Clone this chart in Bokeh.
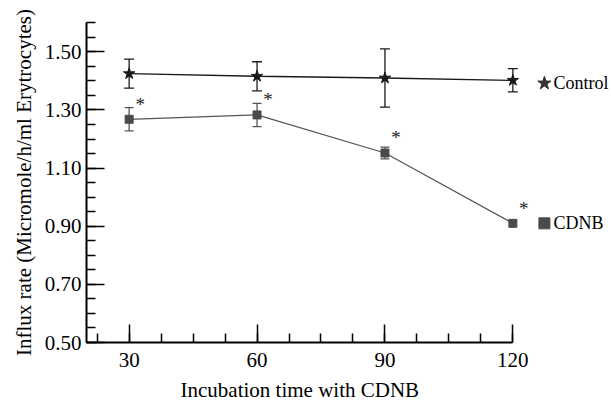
import numpy as np
from bokeh.plotting import figure
from bokeh.models import ColumnDataSource, Whisker, TeeHead, FixedTicker, Range1d, Title
from bokeh.core.properties import value
from bokeh.embed import file_html
from bokeh.resources import INLINE

# ---- data ----
times = [30, 60, 90, 120]
control = [1.425, 1.416, 1.410, 1.402]
control_err = [0.05, 0.05, 0.10, 0.04]
cdnb = [1.268, 1.283, 1.152, 0.910]
cdnb_err = [0.04, 0.04, 0.02, 0.0]
x_ticks = [30, 60, 90, 120]
y_ticks = [0.50, 0.70, 0.90, 1.10, 1.30, 1.50]
y_tick_labels = ["0.50", "0.70", "0.90", "1.10", "1.30", "1.50"]
series_names = ["Control", "CDNB"]
x_title = "Incubation time with CDNB"
y_title = "Influx rate (Micromole/h/ml Erytrocytes)"

FONT = "Liberation Serif"
X_MIN, X_MAX = 20, 120
Y_MIN = 0.5

src = ColumnDataSource(dict(
    x=times,
    c=control, c_up=[v + e for v, e in zip(control, control_err)], c_lo=[v - e for v, e in zip(control, control_err)],
    d=cdnb,
))

p = figure(width=610, height=410, output_backend="svg", toolbar_location=None,
           x_range=Range1d(X_MIN, 142.9), y_range=Range1d(Y_MIN, 1.601),
           min_border_left=86, min_border_right=0, min_border_top=22, min_border_bottom=68)
p.outline_line_color = None
p.grid.visible = False
p.background_fill_color = "white"
p.border_fill_color = "white"

# axes
for ax in (p.xaxis[0], p.yaxis[0]):
    ax.axis_line_width = 2
    ax.axis_line_color = "black"
    ax.major_tick_in = 18
    ax.major_tick_out = 0
    ax.minor_tick_in = 9
    ax.minor_tick_out = 0
    ax.major_tick_line_width = 1.5
    ax.minor_tick_line_width = 1.5
    ax.major_tick_line_color = "black"
    ax.minor_tick_line_color = "black"
    ax.major_label_text_font = FONT
    ax.major_label_text_font_size = "21px"
    ax.major_label_text_color = "black"
    ax.axis_label_text_font = FONT
    ax.axis_label_text_font_size = "21px"
    ax.axis_label_text_font_style = "normal"
    ax.axis_label_text_color = "black"

xa = p.xaxis[0]
xa.bounds = (X_MIN, X_MAX)
xa.ticker = FixedTicker(ticks=x_ticks, minor_ticks=list(np.arange(22.5, 120.1, 7.5)))
xa.major_label_standoff = 10

ya = p.yaxis[0]
ya.ticker = FixedTicker(ticks=y_ticks, minor_ticks=list(np.round(np.arange(0.50, 1.6001, 0.05), 2)))
ya.major_label_overrides = {t: l for t, l in zip(y_ticks, y_tick_labels)}
ya.axis_label = y_title
ya.major_label_standoff = 5
ya.axis_label_standoff = 6

# x-axis title centred under the drawn axis (20..120), as a title panel below
p.add_layout(Title(text=x_title, align="left", offset=94, text_font=FONT, text_font_size="21px",
                   text_font_style="normal", text_color="black", standoff=13), "below")

# lines
p.line("x", "c", source=src, line_color="#1a1a1a", line_width=1.3)
p.line("x", "d", source=src, line_color="#555555", line_width=1.3)

# error bars
p.add_layout(Whisker(base="x", upper="c_up", lower="c_lo", source=src,
                     line_color="#1a1a1a", line_width=1.3,
                     upper_head=TeeHead(size=10, line_color="#1a1a1a", line_width=1.3),
                     lower_head=TeeHead(size=10, line_color="#1a1a1a", line_width=1.3)))
dsrc = ColumnDataSource(dict(x=[t for t, e in zip(times, cdnb_err) if e > 0],
                             up=[v + e for v, e in zip(cdnb, cdnb_err) if e > 0],
                             lo=[v - e for v, e in zip(cdnb, cdnb_err) if e > 0]))
p.add_layout(Whisker(base="x", upper="up", lower="lo", source=dsrc,
                     line_color="#555555", line_width=1.3,
                     upper_head=TeeHead(size=9, line_color="#555555", line_width=1.3),
                     lower_head=TeeHead(size=9, line_color="#555555", line_width=1.3)))

# markers
p.scatter("x", "c", source=src, marker="star", size=12, fill_color="#1a1a1a", line_color="#1a1a1a")
p.scatter("x", "d", source=src, marker="square", size=8, fill_color="#4a4a4a", line_color="#4a4a4a")

# significance asterisks
p.text(x=times, y=cdnb, text=["*"] * len(times), text_font=value(FONT), text_font_size="19px",
       text_align="center", text_baseline="middle", x_offset=11, y_offset=-15, text_color="#222222")

# legend-like labels at right
lx = times[-1] + 7.4
p.scatter(x=[lx], y=[control[-1] - 0.01], marker="star", size=14, fill_color="#333333", line_color="#333333")
p.scatter(x=[lx], y=[cdnb[-1]], marker="square", size=11, fill_color="#4a4a4a", line_color="#4a4a4a")
p.text(x=[lx, lx], y=[control[-1] - 0.01, cdnb[-1]], text=series_names, text_font=value(FONT),
       text_font_size="18px", text_align="left", text_baseline="middle", x_offset=9, text_color="black")

open("out.html", "w").write(file_html(p, INLINE))
